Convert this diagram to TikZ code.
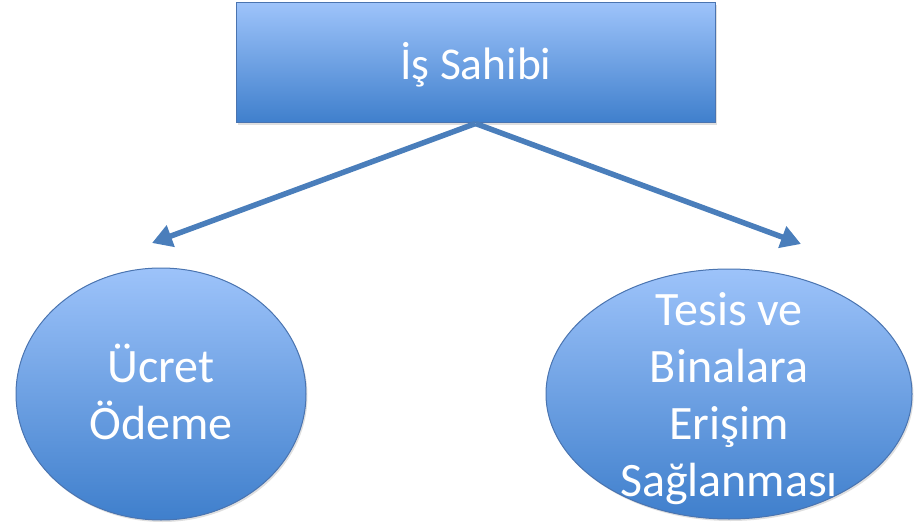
\documentclass[tikz,border=0pt]{standalone}
\usepackage{fontspec}
\setmainfont{Carlito}
\usetikzlibrary{arrows.meta,shapes.geometric,shadows}
\definecolor{topblue}{HTML}{9DC3FA}
\definecolor{botblue}{HTML}{3F7FCC}
\definecolor{edgeblue}{HTML}{4A74B0}
\definecolor{arrowblue}{HTML}{4A7EBB}
\begin{document}
\begin{tikzpicture}[x=1pt,y=-1pt,
  box/.style={draw=edgeblue, line width=1pt, top color=topblue, bottom color=botblue,
    minimum width=479pt, minimum height=120pt, inner sep=0pt,
    drop shadow={opacity=0.25, shadow xshift=1.5pt, shadow yshift=-2pt}},
  oval/.style={ellipse, draw=edgeblue, line width=1pt, top color=topblue, bottom color=botblue,
    inner sep=0pt,
    drop shadow={opacity=0.25, shadow xshift=1.5pt, shadow yshift=-2pt}},
  lbl/.style={text=white, font=\fontsize{48}{57}\selectfont, align=center, inner sep=0pt},
  conn/.style={draw=arrowblue, line width=5.5pt, -{Triangle[length=20pt,width=22pt]}}]
\useasboundingbox (0,0) rectangle (924,524);
\node[box] (owner) at (475.5,63) {};
\node[lbl, font=\fontsize{45.5}{54}\selectfont] (ownert) at (476,65) {İş Sahibi};
\node[oval, minimum width=290pt, minimum height=252pt] (pay) at (161,394) {};
\node[lbl] (payt) at (161,392) {Ücret\\Ödeme};
\node[oval, minimum width=366pt, minimum height=250pt] (access) at (729,394) {};
\node[lbl] (accesst) at (729,399) {Tesis ve\\Binalara\\Erişim\\Sağlanması};
\coordinate (lt) at (152,243);
\coordinate (rt) at (801,244);
\draw[conn] (owner.south) -- (lt);
\draw[conn] (owner.south) -- (rt);
\end{tikzpicture}
\end{document}
